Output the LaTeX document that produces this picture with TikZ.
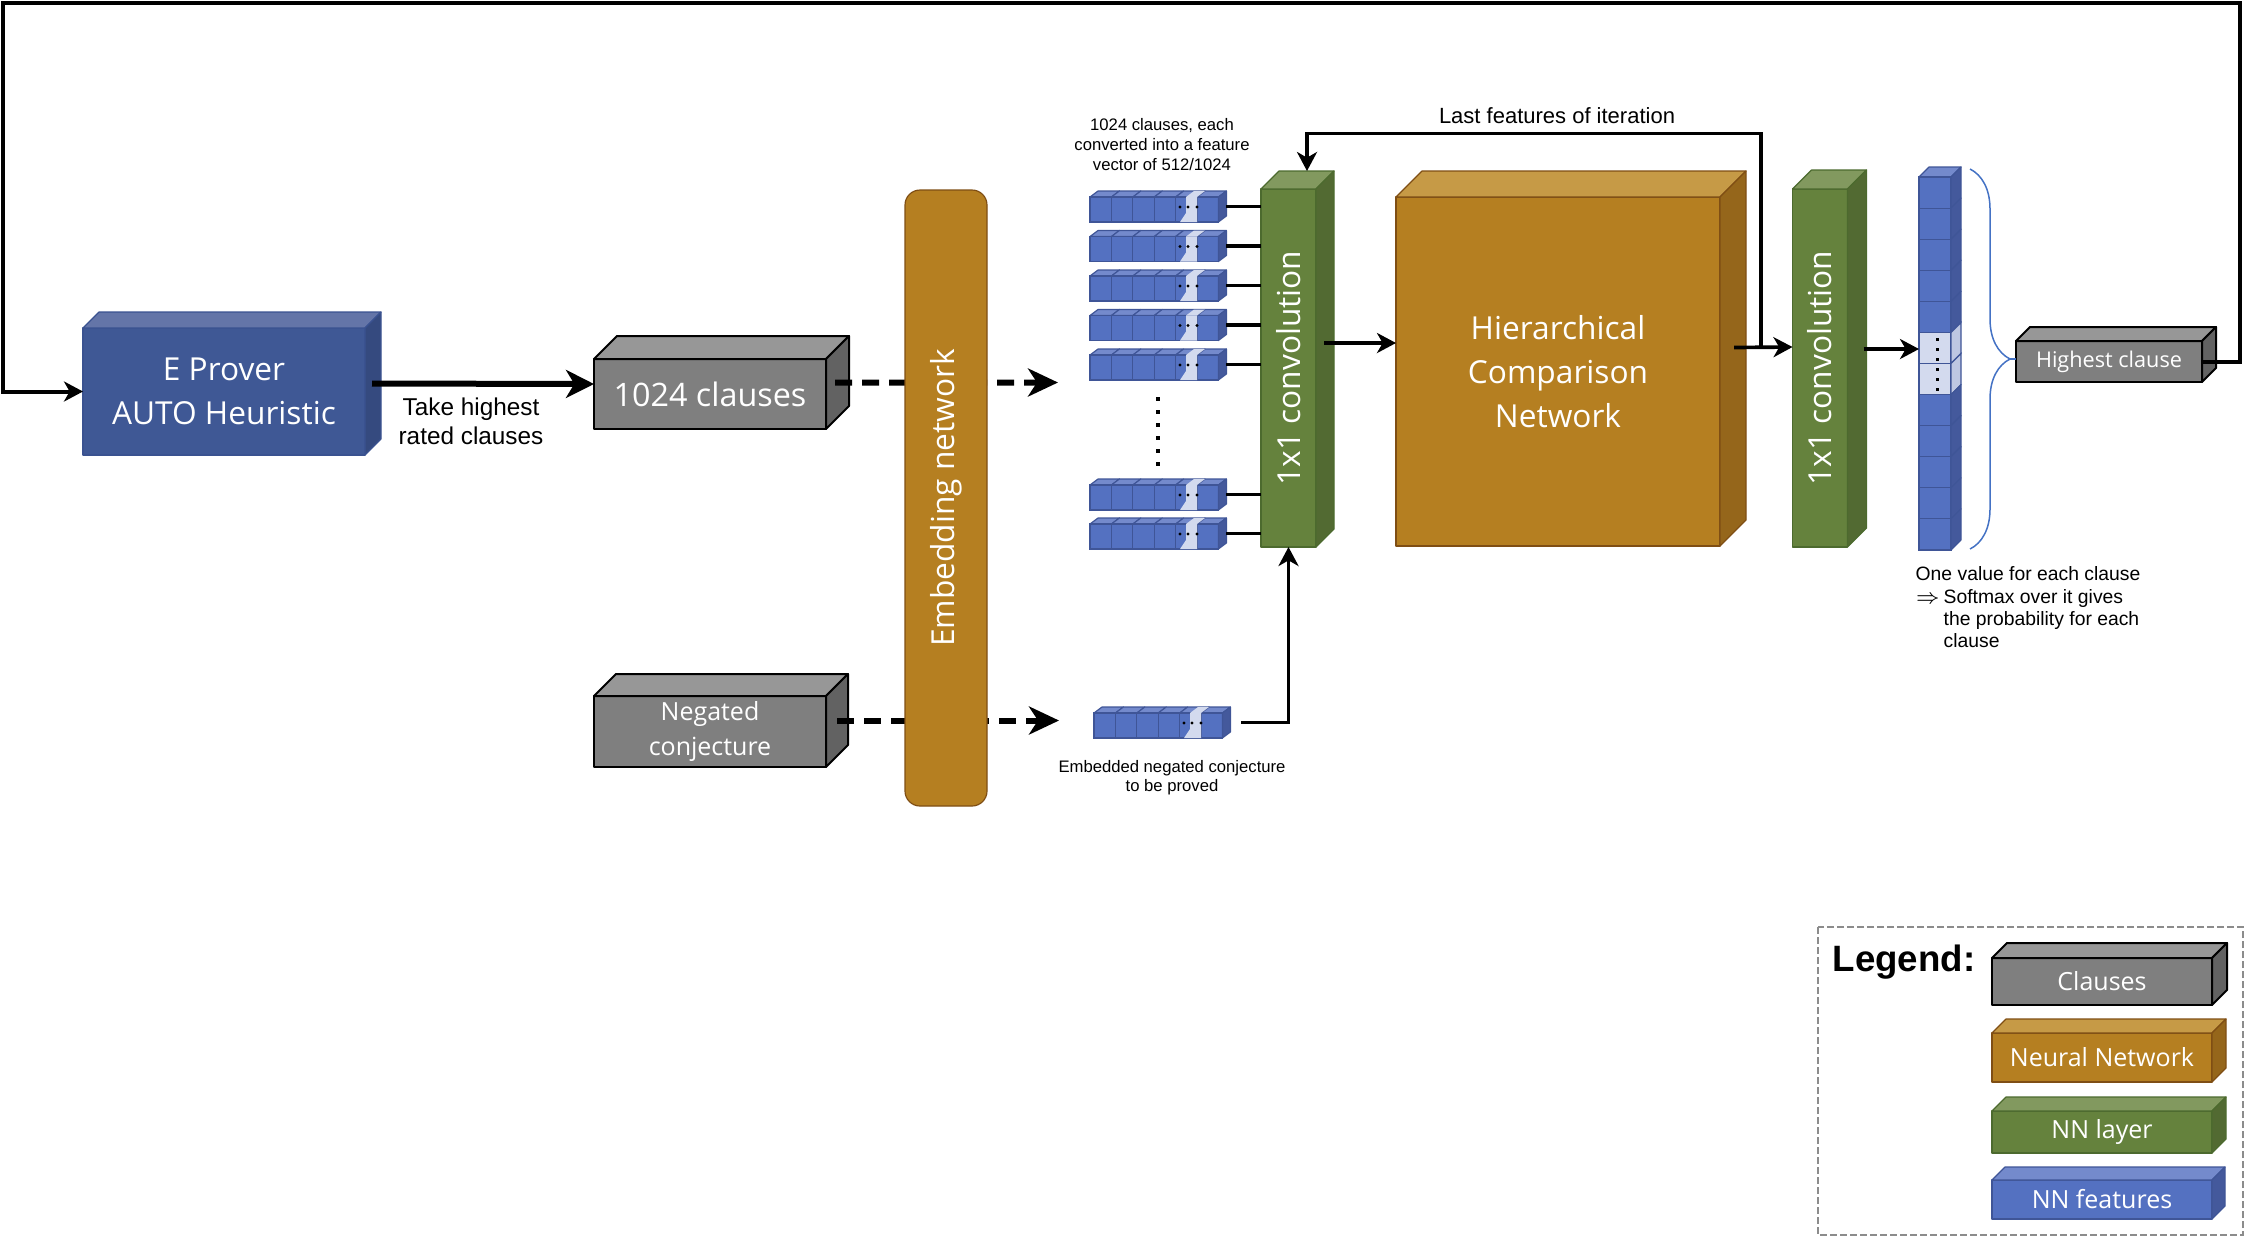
\documentclass[tikz,border=0pt]{standalone}
\usepackage{fontspec}
\usepackage{amssymb}
\usetikzlibrary{arrows.meta,calc,decorations.pathreplacing}

\newfontfamily\boxfont{Open Sans}
\newfontfamily\notefont{Liberation Sans}
\newcommand{\upx}{0.3pt}

\definecolor{clfront}{HTML}{7F7F7F}
\definecolor{cltop}{HTML}{979797}
\definecolor{clside}{HTML}{626262}
\definecolor{nnfront}{HTML}{B57F21}
\definecolor{nntop}{HTML}{C69A46}
\definecolor{nnside}{HTML}{95661B}
\definecolor{nnline}{HTML}{7F4E14}
\definecolor{lyfront}{HTML}{65823D}
\definecolor{lytop}{HTML}{82995F}
\definecolor{lyside}{HTML}{526A32}
\definecolor{lyline}{HTML}{4C6A2E}
\definecolor{ftfront}{HTML}{5471C1}
\definecolor{fttop}{HTML}{748ACC}
\definecolor{ftside}{HTML}{44599C}
\definecolor{ftline}{HTML}{3F5597}
\definecolor{ftlight}{HTML}{D3DAEE}
\definecolor{epfront}{HTML}{3F5895}
\definecolor{eptop}{HTML}{6475A8}
\definecolor{epside}{HTML}{354A7F}
\definecolor{epline}{HTML}{3A5290}
\definecolor{bracecol}{HTML}{4472C4}
\definecolor{legline}{HTML}{8C8C8C}

\tikzset{
  cube/.style={inner sep=0pt, outer sep=0pt, text=white, align=center, line join=round},
  bigfont/.style={font=\boxfont\fontsize{9.5pt}{13.3pt}\selectfont},
  midfont/.style={font=\boxfont\fontsize{7.5pt}{10.4pt}\selectfont},
  annot/.style={inner sep=0pt, align=center},
  prover/.style={cube, draw=epline, line width=0.35pt, fill=epfront},
  prover top/.style={draw=epline, line width=0.35pt, fill=eptop, line join=round},
  prover side/.style={draw=epline, line width=0.35pt, fill=epside, line join=round},
  clause/.style={cube, draw=black, line width=0.6pt, fill=clfront},
  clause top/.style={draw=black, line width=0.6pt, fill=cltop, line join=round},
  clause side/.style={draw=black, line width=0.6pt, fill=clside, line join=round},
  nn/.style={cube, draw=nnline, line width=0.35pt, fill=nnfront},
  nn top/.style={draw=nnline, line width=0.35pt, fill=nntop, line join=round},
  nn side/.style={draw=nnline, line width=0.35pt, fill=nnside, line join=round},
  convlayer/.style={cube, draw=lyline, line width=0.35pt, fill=lyfront},
  convlayer top/.style={draw=lyline, line width=0.35pt, fill=lytop, line join=round},
  convlayer side/.style={draw=lyline, line width=0.35pt, fill=lyside, line join=round},
  feat/.style={cube, draw=ftline, line width=0.35pt, fill=ftfront},
  feat front/.style={draw=ftline, line width=0.35pt, fill=ftfront},
  feat top/.style={draw=ftline, line width=0.35pt, fill=fttop, line join=round},
  feat side/.style={draw=ftline, line width=0.35pt, fill=ftside, line join=round},
  light front/.style={draw=ftline, line width=0.35pt, fill=ftlight},
  light side/.style={draw=ftline, line width=0.35pt, fill=ftlight!85!ftside},
  fvbox/.style={inner sep=0pt, outer sep=0pt, minimum width=136.4*\upx, minimum height=31*\upx},
  conn/.style={line width=1.1pt},
  headarrow/.style={-{Stealth[length=5.7pt, width=6pt, inset=1.7pt]}},
  bigarrow/.style={line width=1.8pt, -{Stealth[length=8.4pt, width=8.4pt, inset=2.5pt]}},
  embarrow/.style={line width=1.8pt, dash pattern=on 5.1pt off 3pt, -{Stealth[length=9pt, width=8.4pt, inset=2.7pt]}},
  loopline/.style={line width=1.2pt},
  dotline/.style={line width=1.05pt, dash pattern=on 1.05pt off 2.85pt},
  dotcol/.style={line width=0.9pt, dash pattern=on 0.9pt off 2.1pt},
  braceline/.style={draw=bracecol, line width=0.45pt},
  legframe/.style={draw=legline, line width=0.4pt, dash pattern=on 2pt off 1pt},
}

% 箱の上面と側面
\newcommand{\cuboid}[3]{%
  \filldraw[#3 top] (#1.north west) -- ++(#2,-#2) -- ($(#1.north east)+(#2,-#2)$) -- (#1.north east) -- cycle;
  \filldraw[#3 side] (#1.north east) -- ++(#2,-#2) -- ($(#1.south east)+(#2,-#2)$) -- (#1.south east) -- cycle;
}

% 特徴ベクトル一本
\newcommand{\fvrow}[1]{%
  \begin{scope}[shift={(#1.south west)}]
    \foreach \k in {0,...,5} {
      \filldraw[feat top] (\k*21.4,-25) -- ++(8,-6) -- ++(21.4,0) -- ++(-8,6) -- cycle;
      \filldraw[feat front] (\k*21.4,0) rectangle ++(21.4,-25);
    }
    \filldraw[feat side] (128.4,0) -- ++(8,-6) -- ++(0,-25) -- ++(-8,6) -- cycle;
    \fill[ftlight] (96,-25) -- (107,-25) -- (107,0) -- (90,0) -- (96,-9) -- cycle;
    \fill[ftlight] (96,-25) -- (104,-31) -- (115,-31) -- (107,-25) -- cycle;
    \foreach \d in {90,98,107} \fill (\d,-15) circle[radius=0.5pt];
  \end{scope}}

\begin{document}
\begin{tikzpicture}[x=0.3pt, y=-0.3pt]
    \useasboundingbox (0,0) rectangle (2245,1237);

    % 左の箱
    \node[prover, bigfont, minimum width=282*\upx, minimum height=127*\upx] (ep) at (224,391.5) {E Prover\\AUTO Heuristic};
    \cuboid{ep}{16}{prover}
    \node[clause, font=\boxfont\fontsize{9.7pt}{12pt}\selectfont, minimum width=232*\upx, minimum height=70*\upx] (cl) at (710,394) {1024 clauses};
    \cuboid{cl}{23}{clause}
    \node[clause, midfont, minimum width=232*\upx, minimum height=71*\upx] (nc) at (710,731.5) {Negated\\conjecture};
    \cuboid{nc}{22}{clause}

    % 線を引く
    \draw[bigarrow] ($(ep.east)+(7,-8)$) -- ($(cl.west)+(0,-10)$);
    \node[annot, font=\notefont\fontsize{7.3pt}{8.7pt}\selectfont] (take) at (471,421) {Take highest\\rated clauses};
    \coordinate (emb1) at (1058,382.5);
    \coordinate (emb2) at (1059,720.5);
    \draw[embarrow] ($(cl.east)+(9,-11.5)$) -- (emb1);
    \draw[embarrow] ($(nc.east)+(11,-11)$) -- (emb2);

    % 埋め込み
    \node[nn, bigfont, rounded corners=4.5pt, minimum width=82*\upx, minimum height=616*\upx] (emb) at (946,498) {\rotatebox{90}{Embedding network}};

    % 畳み込み層
    \node[convlayer, bigfont, minimum width=55*\upx, minimum height=358*\upx] (conv1) at (1288.5,368) {\rotatebox{90}{1x1 convolution}};
    \cuboid{conv1}{18}{convlayer}

    % 特徴ベクトル
    \foreach \i/\y in {1/206.5, 2/246, 3/285.5, 4/325, 5/364.5, 6/494.5, 7/533.5} {
      \node[fvbox] (r\i) at (1158.2,\y) {};
      \fvrow{r\i}
      \draw[conn] (r\i) -- (r\i -| conv1.west);
    }
    \draw[dotline, shorten <=5.1pt, shorten >=1.8pt] (r5) -- (r6);
    \node[fvbox] (cv) at (1162.2,722.5) {};
    \fvrow{cv}
    \draw[conn, headarrow, shorten <=3.3pt] (cv) -| (conv1.south);

    \node[annot, font=\notefont\fontsize{5pt}{6pt}\selectfont] (cldesc) at (1162,145) {1024 clauses, each\\converted into a feature\\vector of 512/1024};
    \node[annot, font=\notefont\fontsize{5pt}{5.6pt}\selectfont] (cvdesc) at (1172,778) {Embedded negated conjecture\\to be proved};

    % 比較ネットワーク
    \node[nn, bigfont, minimum width=324*\upx, minimum height=349*\upx] (hcn) at (1558,371.5) {Hierarchical\\Comparison\\Network};
    \cuboid{hcn}{26}{nn}
    \node[convlayer, bigfont, minimum width=55*\upx, minimum height=358*\upx] (conv2) at (1820,368) {\rotatebox{90}{1x1 convolution}};
    \cuboid{conv2}{19}{convlayer}

    \draw[conn, headarrow] ($(conv1.east)+(8,-25)$) -- ($(hcn.west)+(0,-28.5)$);
    \draw[conn, headarrow] ($(hcn.east)+(14,-24)$) -- ($(conv2.west)+(0,-21)$);
    \coordinate (fb) at ($(hcn.east)+(41,-24)$);
    \draw[conn, headarrow] (fb) -- ++(0,-214) -| ($(conv1.north)+(18.5,-18)$);
    \node[annot, font=\notefont\fontsize{6.6pt}{8pt}\selectfont] (lastf) at (1557,116) {Last features of iteration};

    % 出力ベクトル
    \node[inner sep=0pt, outer sep=0pt, minimum width=32*\upx, minimum height=373*\upx] (outv) at (1935,363.5) {};
    \begin{scope}[shift={(outv.north west)}]
      \filldraw[feat top] (0,0) -- (10,-10) -- (42,-10) -- (32,0) -- cycle;
      \foreach \k/\s in {0/feat,1/feat,2/feat,3/feat,4/feat,5/light,6/light,7/feat,8/feat,9/feat,10/feat,11/feat} {
        \filldraw[\s\space front] (0,\k*31.08) rectangle ++(32,31.08);
        \filldraw[\s\space side] (32,\k*31.08) -- ++(10,-10) -- ++(0,31.08) -- ++(-10,10) -- cycle;
      }
    \end{scope}
    \draw[dotcol] ($(outv.north)+(2,161)$) -- ($(outv.north)+(2,216)$);
    \draw[conn, headarrow] ($(conv2.east)+(16,-19)$) -- ($(outv.west)+(0,-14.5)$);

    \node[clause, font=\boxfont\fontsize{6.5pt}{8pt}\selectfont, minimum width=186*\upx, minimum height=41*\upx] (hc) at (2109,361.5) {Highest clause};
    \cuboid{hc}{14}{clause}
    \draw[braceline, decorate, decoration={brace, amplitude=12pt}] ($(outv.north east)+(19,-8)$) -- ($(outv.south east)+(19,-1)$);
    \coordinate (brtip) at ($(outv.east)+(59,-4.5)$);
    \draw[braceline] (brtip) -- (brtip -| hc.west);

    \node[annot, anchor=north west, font=\notefont\fontsize{5.8pt}{6.7pt}\selectfont] (softmax) at (1915,564.5)
      {\begin{tabular}{@{}p{8.4pt}@{}l@{}}\multicolumn{2}{@{}l@{}}{One value for each clause}\\ $\Rightarrow$ & Softmax over it gives\\ & the probability for each\\ & clause\end{tabular}};

    % 大きなループ
    \draw[loopline, headarrow] (hc.east) -- ++(38,0) -- ++(0,-358.5) -| ($(ep.west)+(-80,0)$) -- (ep.west);

    % 凡例
    \draw[legframe] (1818,927) rectangle (2243,1235);
    \node[anchor=base west, inner sep=0pt, font=\notefont\bfseries\fontsize{11pt}{13pt}\selectfont] (legend) at (1832,971) {Legend:};
    \node[clause, midfont, minimum width=220*\upx, minimum height=47*\upx] (lgcl) at (2102,981.5) {Clauses};
    \cuboid{lgcl}{15}{clause}
    \node[nn, midfont, minimum width=220*\upx, minimum height=49*\upx] (lgnn) at (2102,1057.5) {Neural Network};
    \cuboid{lgnn}{14}{nn}
    \node[convlayer, midfont, minimum width=220*\upx, minimum height=42*\upx] (lgly) at (2102,1132) {NN layer};
    \cuboid{lgly}{14}{convlayer}
    \node[feat, midfont, minimum width=220*\upx, minimum height=39*\upx] (lgft) at (2102,1199.5) {NN features};
    \cuboid{lgft}{13}{feat}

  \end{tikzpicture}
\end{document}
